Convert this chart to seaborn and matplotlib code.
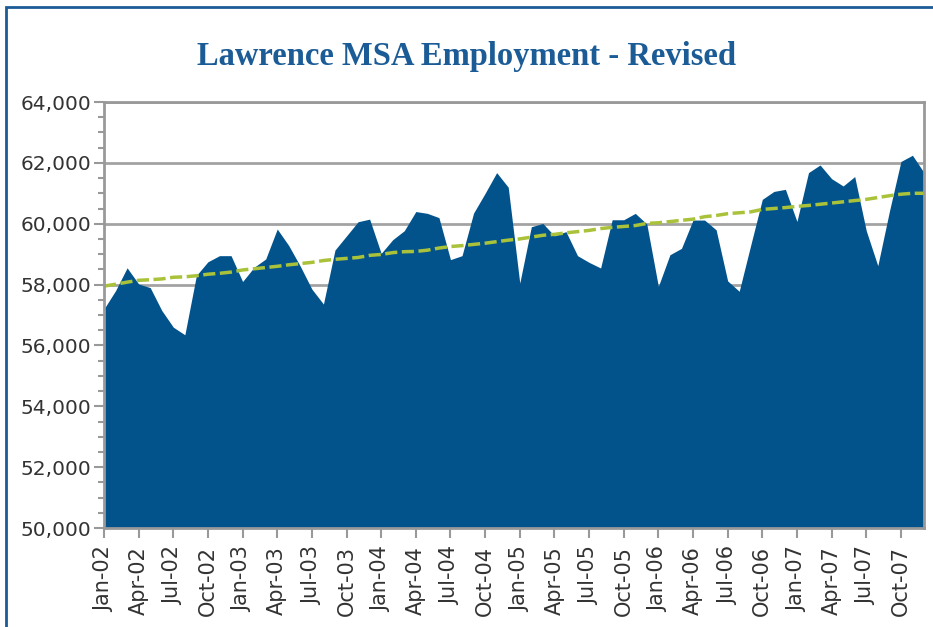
import numpy as np
import pandas as pd
import matplotlib
matplotlib.use("Agg")
import matplotlib.pyplot as plt
import seaborn as sns
from matplotlib.patches import Rectangle
from matplotlib.ticker import MultipleLocator, FuncFormatter

# ---- data ----
months = [f"{m}-{y:02d}" for y in range(2, 8) for m in
          ["Jan", "Feb", "Mar", "Apr", "May", "Jun", "Jul", "Aug", "Sep", "Oct", "Nov", "Dec"]]

employment = [
    57200, 57800, 58550, 58020, 57900, 57150, 56600, 56350, 58300, 58750, 58950, 58950,  # 2002
    58100, 58570, 58840, 59825, 59280, 58600, 57850, 57360, 59135, 59600, 60065, 60150,  # 2003
    59025, 59475, 59770, 60400, 60340, 60200, 58820, 58950, 60350, 61000, 61680, 61200,  # 2004
    58050, 59900, 60010, 59600, 59740, 58950, 58730, 58545, 60130, 60130, 60340, 59990,  # 2005
    57940, 58980, 59190, 60120, 60120, 59800, 58120, 57780, 59300, 60800, 61060, 61130,  # 2006
    60075, 61680, 61930, 61480, 61240, 61550, 59770, 58620, 60400, 62045, 62250, 61680,  # 2007
]

trend = [
    57950, 58010, 58080, 58140, 58160, 58185, 58240, 58255, 58290, 58340, 58370, 58410,
    58480, 58520, 58560, 58600, 58650, 58690, 58730, 58790, 58830, 58860, 58890, 58960,
    58990, 59050, 59080, 59090, 59130, 59200, 59250, 59280, 59320, 59360, 59410, 59460,
    59500, 59560, 59620, 59650, 59700, 59740, 59780, 59840, 59880, 59910, 59940, 60010,
    60030, 60070, 60110, 60150, 60230, 60270, 60330, 60360, 60390, 60470, 60500, 60530,
    60570, 60600, 60640, 60680, 60720, 60760, 60800, 60860, 60920, 60970, 61000, 61000,
]

tick_labels = [months[i] for i in range(0, 72, 3)]
title = "Lawrence MSA Employment - Revised"

df = pd.DataFrame({"idx": np.arange(len(months)), "month": months,
                   "employment": employment, "trend": trend})

# ---- style ----
sns.set_style("white")
plt.rcParams["font.family"] = ["DejaVu Sans"]

fig = plt.figure(figsize=(9.33, 6.27), dpi=100)
ax = fig.add_axes([104 / 933, 1 - 528 / 627, (924 - 104) / 933, (528 - 102) / 627])

fill_color = "#02538C"
trend_color = "#A9C23A"
grid_color = "#A3A3A3"
spine_color = "#999999"
text_color = "#333333"

ax.fill_between(df["idx"], df["employment"], 50000, color=fill_color, lw=0, zorder=2)
sns.lineplot(data=df, x="idx", y="trend", ax=ax, color=trend_color, lw=2.5,
             dashes=False, zorder=3)
ax.lines[-1].set_dashes([3.5, 1.3])

ax.set_xlim(0, 71)
ax.set_ylim(50000, 64000)
ax.set_xlabel("")
ax.set_ylabel("")

ax.set_xticks(np.arange(0, 72, 3))
ax.set_xticklabels(tick_labels, rotation=90, fontsize=15, color=text_color)
ax.yaxis.set_major_locator(MultipleLocator(2000))
ax.yaxis.set_minor_locator(MultipleLocator(500))
ax.yaxis.set_major_formatter(FuncFormatter(lambda v, p: f"{int(v):,}"))

ax.tick_params(axis="y", which="major", direction="out", length=7, width=1.5,
               color=spine_color, pad=2, labelsize=14.5, labelcolor=text_color, left=True)
ax.tick_params(axis="y", which="minor", direction="out", length=4, width=1.5,
               color=spine_color, left=True)
ax.tick_params(axis="x", which="major", direction="out", length=7, width=1.5,
               color=spine_color, pad=6, labelsize=15, labelcolor=text_color, bottom=True)

ax.grid(axis="y", which="major", color=grid_color, lw=2, zorder=1)
ax.grid(axis="x", visible=False)
ax.set_axisbelow(True)
for s in ["left", "bottom", "right", "top"]:
    ax.spines[s].set_visible(True)
    ax.spines[s].set_color(spine_color)
    ax.spines[s].set_linewidth(2)
    ax.spines[s].set_zorder(4)

fig.text(0.5, 1 - 57 / 627, title, ha="center", va="center",
         fontsize=23.5, fontweight="bold", color="#1B5C96",
         family=["Liberation Serif", "DejaVu Serif"])

# outer blue frame (extends beyond the image on the right and bottom)
fig.patches.append(Rectangle((6 / 933, -0.05), 1.2, 1 - 7 / 627 + 0.05,
                             transform=fig.transFigure, fill=False,
                             edgecolor="#1B5C96", lw=2))

fig.savefig("out.png", dpi=100)
